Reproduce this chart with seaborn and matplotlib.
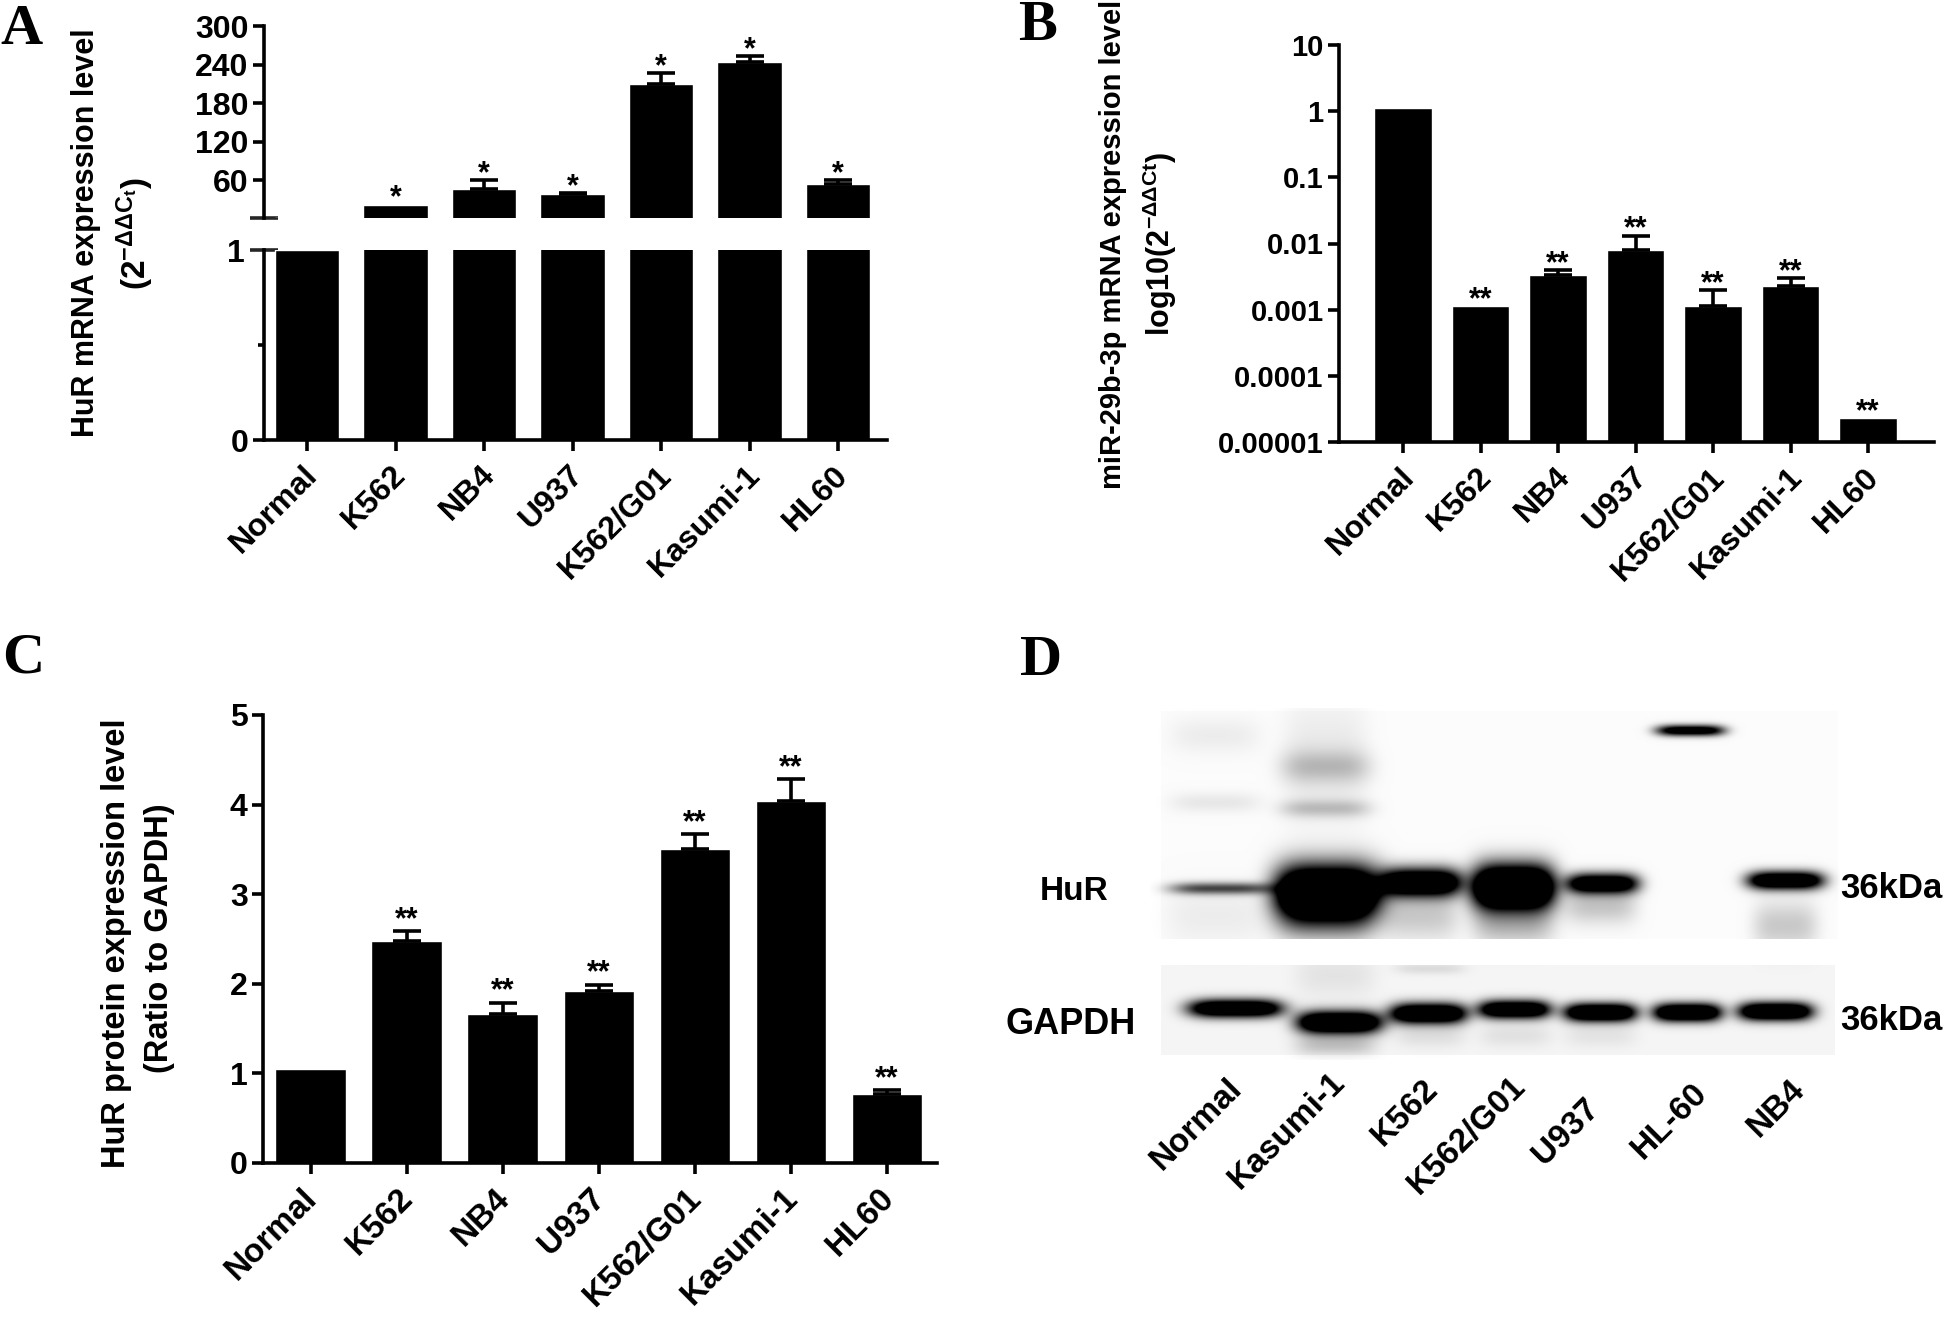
import numpy as np
import seaborn as sns
import matplotlib
matplotlib.use('Agg')
import matplotlib.pyplot as plt
from matplotlib.transforms import ScaledTranslation

W, H = 1944, 1317

# panel A, HuR mRNA
cats = ['Normal', 'K562', 'NB4', 'U937', 'K562/G01', 'Kasumi-1', 'HL60']
mrna_vals = [1, 22, 46.5, 38, 210, 243.5, 54.5]
mrna_tops = [None, None, 60, 39.5, 227, 253, 60]
mrna_stars = ['', '*', '*', '*', '*', '*', '*']

# panel B, miR-29b-3p
mir_vals = [1.12, 0.00112, 0.0034, 0.0079, 0.00112, 0.00228, 0.0000228]
mir_tops = [None, None, 0.004, 0.0131, 0.00198, 0.00302, None]
mir_ticks = [0.00001, 0.0001, 0.001, 0.01, 0.1, 1, 10]
mir_labels = ['0.00001', '0.0001', '0.001', '0.01', '0.1', '1', '10']

# panel C, HuR protein
prot_vals = [1.05, 2.475, 1.66, 1.925, 3.51, 4.04, 0.775]
prot_tops = [None, 2.585, 1.79, 1.99, 3.67, 4.285, 0.81]
double_stars = ['', '**', '**', '**', '**', '**', '**']

# panel D, western blot bands: lane centre, half width, row, half height, darkness
blot_lanes = ['Normal', 'Kasumi-1', 'K562', 'K562/G01', 'U937', 'HL-60', 'NB4']
blot_label_x = [1226, 1329, 1422, 1510, 1583, 1691, 1789]
blot_label_y = [1073, 1067, 1073, 1071, 1093, 1077, 1074]
hur_bands = [
    (1221, 51, 888, 6, 0.7), (1327, 52, 893, 27, 2.2), (1421, 40, 882, 14, 1.7),
    (1513, 41, 887, 22, 2.2), (1602, 36, 883, 10, 1.5), (1785, 38, 880, 9, 1.6),
    (1690, 34, 730, 5.5, 1.3),
]
hur_smears = [
    (1215, 45, 735, 18, 0.06), (1215, 45, 802, 10, 0.08), (1325, 45, 766, 16, 0.2),
    (1325, 45, 808, 9, 0.22), (1325, 42, 760, 60, 0.08), (1325, 48, 925, 18, 0.2),
    (1420, 38, 915, 24, 0.2), (1513, 40, 925, 20, 0.25), (1600, 36, 905, 18, 0.22),
    (1785, 32, 925, 24, 0.2), (1215, 50, 915, 30, 0.06),
]
gapdh_bands = [
    (1235, 47, 1008, 9, 1.6), (1339, 42, 1022, 11, 1.8), (1428, 38, 1013, 10, 1.7),
    (1514, 36, 1009, 9, 1.6), (1600, 36, 1012, 9, 1.7), (1687, 34, 1012, 9, 1.7),
    (1775, 37, 1011, 9, 1.7),
]
gapdh_smears = [
    (1335, 40, 1045, 10, 0.2), (1335, 40, 975, 22, 0.07), (1430, 35, 1035, 12, 0.09),
    (1430, 35, 968, 6, 0.1), (1515, 36, 1035, 12, 0.08), (1600, 36, 1035, 12, 0.07),
]

sns.set_style('ticks')
plt.rcParams['font.family'] = ['Liberation Sans', 'DejaVu Sans']
plt.rcParams['font.weight'] = 'bold'
plt.rcParams['axes.labelweight'] = 'bold'
plt.rcParams['mathtext.fontset'] = 'custom'
plt.rcParams['mathtext.rm'] = 'Liberation Sans:bold'
plt.rcParams['mathtext.it'] = 'Liberation Sans:bold'
plt.rcParams['mathtext.bf'] = 'Liberation Sans:bold'
plt.rcParams['axes.unicode_minus'] = False
plt.rcParams['text.color'] = 'black'
plt.rcParams['xtick.labelcolor'] = 'black'
plt.rcParams['ytick.labelcolor'] = 'black'

LW = 2.6
STAR_FS = 22

fig = plt.figure(figsize=(W / 100, H / 100), dpi=100)


def px_axes(left, top, right, bottom):
    return fig.add_axes([left / W, 1 - bottom / H, (right - left) / W, (bottom - top) / H])


def px_text(x, y, s, **kw):
    return fig.text(x / W, 1 - y / H, s, **kw)


def style_axes(ax, tick_fs):
    sns.despine(ax=ax)
    for s in ['left', 'bottom']:
        ax.spines[s].set_linewidth(LW)
        ax.spines[s].set_color('black')
    ax.tick_params(axis='both', which='major', width=LW, length=8, color='black',
                   labelsize=tick_fs, pad=3)
    ax.set_xlabel('')
    ax.set_ylabel('')


def draw_bars(ax, vals, width):
    sns.barplot(x=cats, y=vals, color='black', saturation=1, width=width, errorbar=None, ax=ax)


def draw_errs(ax, vals, tops):
    for i, (v, t) in enumerate(zip(vals, tops)):
        if t is None:
            continue
        ax.errorbar(i, v, yerr=[[0], [t - v]], fmt='none', ecolor='black',
                    elinewidth=LW, capsize=10, capthick=LW)


def draw_stars(ax, vals, tops, stars, off):
    for i, (v, t, s) in enumerate(zip(vals, tops, stars)):
        if not s:
            continue
        ax.annotate(s, (i, t if t is not None else v), xytext=(0, off), textcoords='offset pixels',
                    ha='center', va='baseline', fontsize=STAR_FS, fontweight='bold',
                    annotation_clip=False)


def cat_ticks(ax, first_px, step_px, left_px, right_px, fs=23, nudge=0):
    ax.set_xticks(range(len(cats)))
    ax.set_xticklabels(cats, rotation=45, ha='right', va='center', rotation_mode='anchor',
                       fontsize=fs, fontweight='bold')
    ax.tick_params(axis='x', pad=14)
    ax.set_xlim((left_px - first_px) / step_px, (right_px - first_px) / step_px)
    shift = ScaledTranslation(nudge / 100, 0, fig.dpi_scale_trans)
    for lab in ax.get_xticklabels():
        lab.set_transform(lab.get_transform() + shift)


# ---------- A
ax_up = px_axes(264, 26, 887, 218)
draw_bars(ax_up, mrna_vals, 0.73)
draw_errs(ax_up, mrna_vals, mrna_tops)
draw_stars(ax_up, mrna_vals, mrna_tops, mrna_stars, -2)
style_axes(ax_up, 23)
ax_up.set_ylim(1, 300)
ax_up.set_yticks([60, 120, 180, 240, 300])
ax_up.set_yticks([1], [''], minor=True)
ax_up.tick_params(axis='y', which='minor', direction='inout', length=20, width=LW)
ax_up.spines['bottom'].set_visible(False)
ax_up.set_xticks([])
ax_up.set_xlim((264 - 307) / 88.5, (887 - 307) / 88.5)

ax_low = px_axes(264, 250, 887, 440)
draw_bars(ax_low, mrna_vals, 0.73)
style_axes(ax_low, 23)
ax_low.set_ylim(0, 1)
ax_low.set_yticks([0, 0.5], ['0', ''])
ax_low.yaxis.get_major_ticks()[1].tick1line.set_markersize(4)
ax_low.set_yticks([1], ['1'], minor=True)
ax_low.tick_params(axis='y', which='minor', direction='inout', length=20, width=LW,
                   labelsize=23, pad=4)
cat_ticks(ax_low, 307, 88.5, 264, 887, nudge=6)

px_text(86, 233, 'HuR mRNA expression level', rotation=90, ha='center', va='center', fontsize=22)
px_text(135, 234, r'(2$^{-\Delta\Delta C_t}$)', rotation=90, ha='center', va='center', fontsize=24)

# ---------- B
ax_b = px_axes(1339, 45, 1934, 442)
draw_bars(ax_b, mir_vals, 0.74)
ax_b.set_yscale('log')
draw_errs(ax_b, mir_vals, mir_tops)
draw_stars(ax_b, mir_vals, mir_tops, double_stars, -2)
style_axes(ax_b, 21)
ax_b.set_ylim(0.00001, 10)
ax_b.set_yticks(mir_ticks, mir_labels)
ax_b.minorticks_off()
cat_ticks(ax_b, 1403, 77.5, 1339, 1934, nudge=7)

px_text(1113, 244, 'miR-29b-3p mRNA expression level', rotation=90, ha='center', va='center', fontsize=21)
px_text(1160, 244, r'log10(2$^{-\Delta\Delta Ct}$)', rotation=90, ha='center', va='center', fontsize=22)

# ---------- C
ax_c = px_axes(263, 715, 937, 1163)
draw_bars(ax_c, prot_vals, 0.733)
draw_errs(ax_c, prot_vals, prot_tops)
draw_stars(ax_c, prot_vals, prot_tops, double_stars, 3)
style_axes(ax_c, 23)
ax_c.set_ylim(0, 5)
ax_c.set_yticks(range(6))
cat_ticks(ax_c, 310.5, 96.1, 263, 937, fs=24, nudge=2)

px_text(117, 943, 'HuR protein expression level', rotation=90, ha='center', va='center', fontsize=23.5)
px_text(159, 938, '(Ratio to GAPDH)', rotation=90, ha='center', va='center', fontsize=23.5)

# ---------- D
x0, x1, y0, y1 = 1150, 1840, 700, 1060
xx, yy = np.meshgrid(np.arange(x0, x1), np.arange(y0, y1))


def band_layer(bands):
    out = np.zeros(xx.shape)
    for cx, hw, cy, hh, dark in bands:
        out += dark * np.exp(-((xx - cx) / hw) ** 4 - ((yy - cy) / hh) ** 2)
    return out


blot = band_layer(hur_bands) + band_layer(hur_smears) + band_layer(gapdh_bands) + band_layer(gapdh_smears)
blot += 0.015 * ((xx > 1160) & (xx < 1838) & (yy > 710) & (yy < 939))
blot += 0.04 * ((xx > 1160) & (xx < 1835) & (yy > 964) & (yy < 1055))
# gap between the two membranes stays white
blot[(yy >= 939) & (yy <= 964)] = 0
blot[yy < 708] = 0
blot = np.clip(blot, 0, 1)

ax_d = px_axes(x0, y0, x1, y1)
sns.heatmap(blot, cmap='gray_r', vmin=0, vmax=1, cbar=False, xticklabels=False,
            yticklabels=False, ax=ax_d)
ax_d.set_axis_off()

px_text(1074, 892, 'HuR', ha='center', va='center', fontsize=24)
px_text(1071, 1024, 'GAPDH', ha='center', va='center', fontsize=26)
px_text(1840, 889, '36kDa', ha='left', va='center', fontsize=25)
px_text(1840, 1020, '36kDa', ha='left', va='center', fontsize=25)
for name, lx, ly in zip(blot_lanes, blot_label_x, blot_label_y):
    px_text(lx, ly, name, rotation=45, ha='right', va='top', rotation_mode='anchor', fontsize=24)

# ---------- panel letters
for letter, lx, ly in [('A', 0, 44), ('B', 1018, 40), ('C', 2, 672), ('D', 1020, 675)]:
    px_text(lx, ly, letter, fontsize=42, family='Liberation Serif', fontweight='bold',
            ha='left', va='baseline')

fig.savefig('out.png', dpi=100, facecolor='white')
